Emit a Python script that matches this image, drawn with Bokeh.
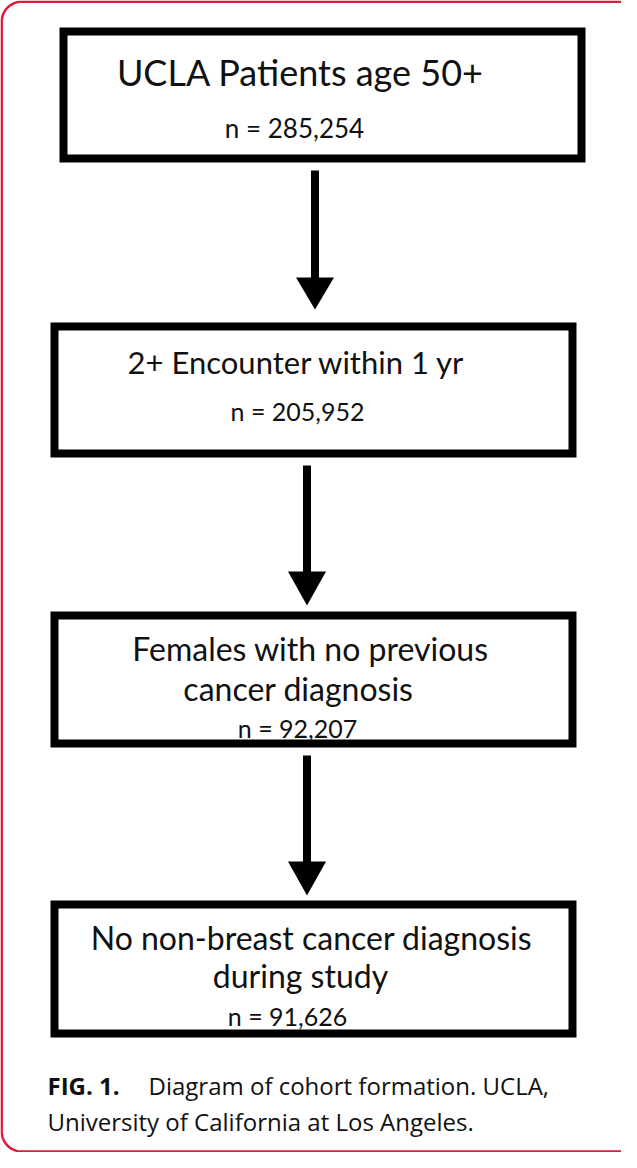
import math
from bokeh.plotting import figure
from bokeh.models import Range1d, ColumnDataSource
from bokeh.core.properties import value
from bokeh.embed import file_html
from bokeh.resources import INLINE

# ---------------- data ----------------
step_lines = [
    ["UCLA Patients age 50+"],
    ["2+ Encounter within 1 yr"],
    ["Females with no previous", "cancer diagnosis"],
    ["No non-breast cancer diagnosis", "during study"],
]
step_counts = [285254, 205952, 92207, 91626]
caption_label = "FIG. 1."
caption_line1 = "Diagram of cohort formation. UCLA,"
caption_line2 = "University of California at Los Angeles."

# ---------------- layout (page px minus 8px margin) ----------------
W, H = 621, 1152
OFF = 8
# box outer edges (page coords): left, right, top, bottom
box_outer = [(67, 593, 35, 170), (58, 584, 330, 465), (58, 584, 619, 755), (58, 584, 908, 1045)]
BW = 8  # box border width
# title line centers / baselines, n-line center / baseline (page coords)
title_pos = [[(308, 79)], [(304, 369)], [(318, 656), (306, 696)], [(319, 945), (308, 983)]]
title_size = ["36px", "31px", "32px", "32px"]
n_pos = [(302, 135), (305, 418), (305, 735), (295, 1023)]
n_size = ["26px", "25px", "25px", "25px"]
# arrows: center x, shaft top, head top, tip (page coords)
arrows = [(322.5, 178, 285, 317), (314.5, 473, 579, 613), (314.5, 763, 869, 903)]
SHAFT = 8
HEAD_HALF = 19

p = figure(width=W, height=H, x_range=Range1d(0, W), y_range=Range1d(H, 0),
           output_backend="svg", toolbar_location=None,
           x_axis_location=None, y_axis_location=None, min_border=0,
           outline_line_color=None, background_fill_color="white",
           border_fill_color="white")
p.grid.visible = False

# ---------------- red rounded frame ----------------
def rounded_path(l, r, t, b, rad, n=16):
    xs, ys = [], []
    corners = [(l + rad, t + rad, 180, 270), (r - rad, t + rad, 270, 360),
               (r - rad, b - rad, 0, 90), (l + rad, b - rad, 90, 180)]
    for cx, cy, a0, a1 in corners:
        for i in range(n + 1):
            a = math.radians(a0 + (a1 - a0) * i / n)
            xs.append(cx + rad * math.cos(a))
            ys.append(cy + rad * math.sin(a))
    xs.append(xs[0]); ys.append(ys[0])
    return xs, ys

fx, fy = rounded_path(1.2, 660, 1.2, 1151, 20)
p.line(fx, fy, line_color="#E21A3C", line_width=2.5)

# ---------------- boxes ----------------
for (l, r, t, b) in box_outer:
    p.quad(left=l - OFF + BW / 2, right=r - OFF - BW / 2,
           top=t - OFF + BW / 2, bottom=b - OFF - BW / 2,
           fill_color=None, line_color="black", line_width=BW, line_join="miter")

# ---------------- arrows ----------------
for (cx, s0, h0, tip) in arrows:
    cx -= OFF
    p.quad(left=cx - SHAFT / 2, right=cx + SHAFT / 2, top=s0 - OFF, bottom=h0 - OFF + 2,
           fill_color="black", line_color=None)
    p.patch([cx - HEAD_HALF, cx + HEAD_HALF, cx], [h0 - OFF, h0 - OFF, tip - OFF],
            fill_color="black", line_color=None)

# ---------------- texts ----------------
tx, ty, tt, ts = [], [], [], []
for lines, poss, size, cnt, npos, nsz in zip(step_lines, title_pos, title_size,
                                              step_counts, n_pos, n_size):
    for line, (x, y) in zip(lines, poss):
        tx.append(x - OFF); ty.append(y - OFF); tt.append(line); ts.append(size)
    tx.append(npos[0] - OFF); ty.append(npos[1] - OFF)
    tt.append("n = {:,}".format(cnt)); ts.append(nsz)

src = ColumnDataSource(dict(x=tx, y=ty, text=tt, size=ts))
p.text(x="x", y="y", text="text", source=src, text_font=value("Lato"),
       text_font_size="size", text_align="center", text_baseline="alphabetic",
       text_color="#111111")

# caption
p.text(x=[55 - OFF], y=[1093 - OFF], text=[caption_label], text_font=value("Open Sans"),
       text_font_style="bold", text_font_size="24px", text_align="left",
       text_baseline="alphabetic", text_color="#111111")
p.text(x=[156 - OFF, 55 - OFF], y=[1093 - OFF, 1129 - OFF],
       text=[caption_line1, caption_line2], text_font=value("Open Sans"),
       text_font_size="24px", text_align="left", text_baseline="alphabetic",
       text_color="#111111")

open("out.html", "w").write(file_html(p, INLINE))
